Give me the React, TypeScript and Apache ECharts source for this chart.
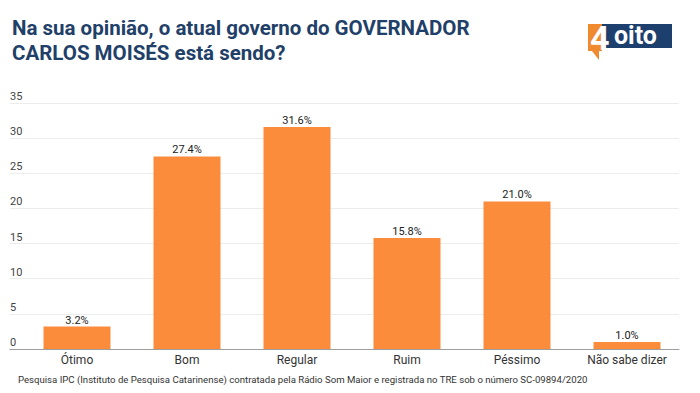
import React, { useEffect, useRef } from "react";
import * as echarts from "echarts";

const categories = ["Ótimo", "Bom", "Regular", "Ruim", "Péssimo", "Não sabe dizer"];
const values = [3.2, 27.4, 31.6, 15.8, 21.0, 1.0];
const yTicks = [0, 5, 10, 15, 20, 25, 30, 35];

const titleLines = ["Na sua opinião, o atual governo do GOVERNADOR", "CARLOS MOISÉS está sendo?"];
const footnote =
  "Pesquisa IPC (Instituto de Pesquisa Catarinense) contratada pela Rádio Som Maior e registrada no TRE sob o número SC-09894/2020";

export default function App() {
  const ref = useRef<HTMLDivElement>(null);
  useEffect(() => {
    document.body.style.margin = "0";
    if (!ref.current) return;
    const chart = echarts.init(ref.current, undefined, { renderer: "svg" });
    const yMax = yTicks[yTicks.length - 1];
    chart.setOption({
      animation: false,
      backgroundColor: "#ffffff",
      textStyle: { fontFamily: "Roboto" },
      grid: [
        { left: 10, right: 21, top: 103, bottom: 44 },
        { left: 22, right: 18, top: 103, bottom: 44 },
      ],
      xAxis: [
        {
          type: "category",
          gridIndex: 0,
          data: categories,
          axisLine: { show: true, lineStyle: { color: "#9e9e9e", width: 1 } },
          axisTick: { show: false },
          axisLabel: { show: false },
        },
        {
          type: "category",
          gridIndex: 1,
          data: categories,
          axisLine: { show: false },
          axisTick: { show: false },
          axisLabel: { color: "#333333", fontSize: 12, margin: 5, fontFamily: "Roboto" },
        },
      ],
      yAxis: [
        {
          type: "value",
          gridIndex: 0,
          min: 0,
          max: yMax,
          interval: 5,
          axisLine: { show: false },
          axisTick: { show: false },
          splitLine: { show: true, lineStyle: { color: "#ececec", width: 1 } },
          axisLabel: {
            inside: true,
            align: "left",
            verticalAlign: "bottom",
            margin: 0,
            color: "#444444",
            fontSize: 11,
            fontFamily: "Roboto",
            padding: [0, 0, 1, 0],
          },
        },
        {
          type: "value",
          gridIndex: 1,
          min: 0,
          max: yMax,
          interval: 5,
          show: false,
          splitLine: { show: false },
        },
      ],
      series: [
        {
          type: "bar",
          xAxisIndex: 1,
          yAxisIndex: 1,
          data: values,
          barWidth: 67,
          itemStyle: { color: "#fa8c3c" },
          label: {
            show: true,
            position: "top",
            distance: 1,
            color: "#222222",
            fontSize: 11,
            fontFamily: "Roboto",
            formatter: (p: any) => p.value.toFixed(1) + "%",
          },
        },
      ],
      graphic: [
        {
          type: "text",
          left: 12,
          top: 15,
          style: {
            text: titleLines.join("\n"),
            fontSize: 20.5,
            fontWeight: "bold",
            fontFamily: "Roboto",
            fill: "#1f4068",
            lineHeight: 25,
          },
        },
        {
          type: "group",
          left: 588,
          top: 21,
          children: [
            {
              type: "rect",
              shape: { x: 12, y: 0, width: 72, height: 24 },
              style: { fill: "#1d3f6e" },
            },
            {
              type: "polygon",
              shape: { points: [[0, 0], [14, 0], [14, 27], [11, 27], [11, 36], [4, 27], [0, 27]] },
              style: { fill: "#f08a2e" },
            },
            {
              type: "text",
              x: 2,
              y: -3,
              style: { text: "4", fontSize: 34, fontWeight: "bold", fontFamily: "Roboto", fill: "#ffffff" },
            },
            {
              type: "text",
              x: 26,
              y: -1,
              style: { text: "oito", fontSize: 25, fontWeight: "bold", fontFamily: "Roboto", fill: "#ffffff" },
            },
          ],
        },
        {
          type: "text",
          left: 18,
          top: 374,
          style: { text: footnote, fontSize: 9.6, fontFamily: "Roboto", fill: "#333333" },
        },
      ],
    });
    return () => chart.dispose();
  }, []);
  return <div ref={ref} style={{ width: 700, height: 393 }} />;
}
